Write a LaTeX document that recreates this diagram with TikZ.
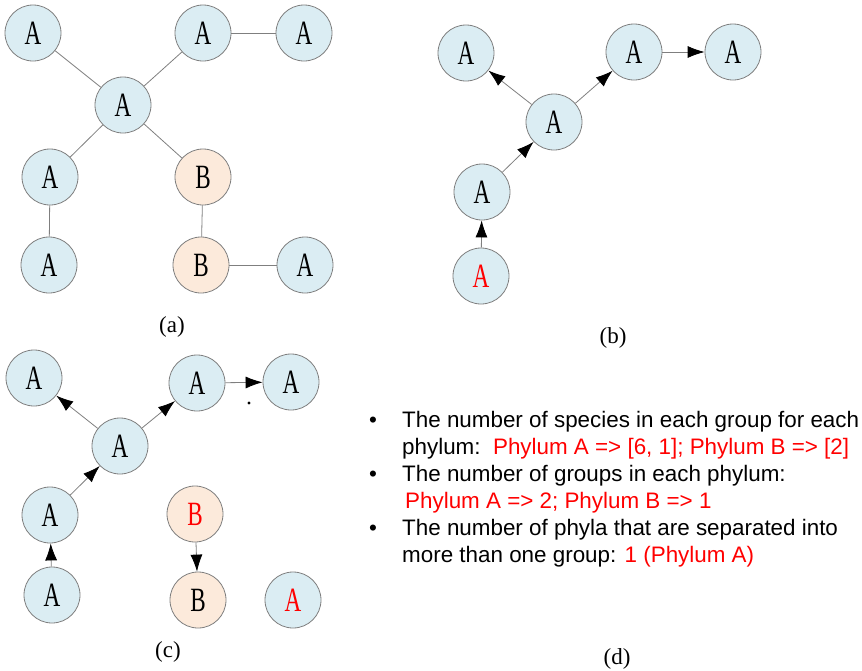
\documentclass[tikz,border=0pt]{standalone}
\usepackage{fontspec}
\setmainfont{Liberation Sans}
\newfontfamily\nodefont[FakeStretch=0.68]{Liberation Serif}
\newfontfamily\capfont{Liberation Serif}
\usetikzlibrary{arrows.meta}
\definecolor{nblue}{HTML}{DBEDF3}
\definecolor{npeach}{HTML}{FCEADB}
\definecolor{nline}{HTML}{7F7F7F}
\definecolor{tred}{HTML}{FF0000}
\begin{document}
\begin{tikzpicture}[x=1pt,y=-1pt,
  sp/.style={circle,draw=nline,line width=0.8pt,minimum size=56pt,inner sep=0pt,font=\nodefont\fontsize{34}{34}\selectfont},
  ta/.style={sp,fill=nblue},
  tb/.style={sp,fill=npeach},
  link/.style={draw=nline,line width=0.8pt},
  arr/.style={link,-{Latex[length=17pt,width=12pt,color=black]}},
  lbl/.style={inner sep=0pt,font=\capfont\fontsize{23}{23}\selectfont},
  txt/.style={anchor=base west,inner sep=0pt,font=\fontsize{22.4}{27}\selectfont},
  bul/.style={anchor=base,inner sep=0pt,font=\fontsize{22.4}{27}\selectfont}]
\useasboundingbox (0,0) rectangle (862,670);
% (a)
\node[ta] (a1) at (33,33) {A};
\node[ta] (a2) at (203,33) {A};
\node[ta] (a3) at (304,33) {A};
\node[ta] (ac) at (123,105) {A};
\node[ta] (a4) at (50,177) {A};
\node[tb] (ab1) at (203,177) {B};
\node[ta] (a5) at (49,265) {A};
\node[tb] (ab2) at (201,265) {B};
\node[ta] (a6) at (305,265) {A};
\draw[link] (a1) -- (ac);
\draw[link] (a2) -- (ac);
\draw[link] (a2) -- (a3);
\draw[link] (ac) -- (a4);
\draw[link] (ac) -- (ab1);
\draw[link] (a4) -- (a5);
\draw[link] (ab1) -- (ab2);
\draw[link] (ab2) -- (a6);
\node[lbl] (la) at (172,327) {(a)};
% (b)
\node[ta] (b1) at (466,53) {A};
\node[ta] (b2) at (634,52) {A};
\node[ta] (b3) at (733,52) {A};
\node[ta] (bc) at (554,122) {A};
\node[ta] (b4) at (482,192) {A};
\node[ta,text=tred] (b5) at (481,276) {A};
\draw[arr] (bc) -- (b1);
\draw[arr] (bc) -- (b2);
\draw[arr] (b2) -- (b3);
\draw[arr] (b4) -- (bc);
\draw[arr] (b5) -- (b4);
\node[lbl] (lb) at (613,338) {(b)};
% (c)
\node[ta] (c1) at (34,378) {A};
\node[ta] (c2) at (197,383) {A};
\node[ta] (c3) at (291,382) {A};
\node[ta] (cc) at (120,446) {A};
\node[ta] (c4) at (50,515) {A};
\node[ta] (c5) at (52,595) {A};
\node[tb,text=tred] (cb1) at (195,514) {B};
\node[tb] (cb2) at (198,600) {B};
\node[ta,text=tred] (c6) at (293,600) {A};
\draw[arr] (cc) -- (c1);
\draw[arr] (cc) -- (c2);
\draw[arr] (c2) -- (c3);
\draw[arr] (c4) -- (cc);
\draw[arr] (c5) -- (c4);
\draw[arr] (cb1) -- (cb2);
\fill (249,403) circle (1.6pt);
\node[lbl] (lc) at (168,652) {(c)};
% (d)
\node[bul] (u1) at (373,427) {\textbullet};
\node[bul] (u2) at (373,481) {\textbullet};
\node[bul] (u3) at (373,535) {\textbullet};
\node[txt] (t1) at (402,427) {The number of species in each group for each};
\node[txt] (t2) at (402,454) {phylum:\ \ \textcolor{tred}{Phylum A => [6, 1]; Phylum B => [2]}};
\node[txt] (t3) at (402,481) {The number of groups in each phylum:};
\node[txt,text=tred] (t4) at (405,508) {Phylum A => 2; Phylum B => 1};
\node[txt] (t5) at (402,535) {The number of phyla that are separated into};
\node[txt] (t6) at (402,562) {more than one group: \textcolor{tred}{1 (Phylum A)}};
\node[lbl] (ld) at (617,659) {(d)};
\end{tikzpicture}
\end{document}
